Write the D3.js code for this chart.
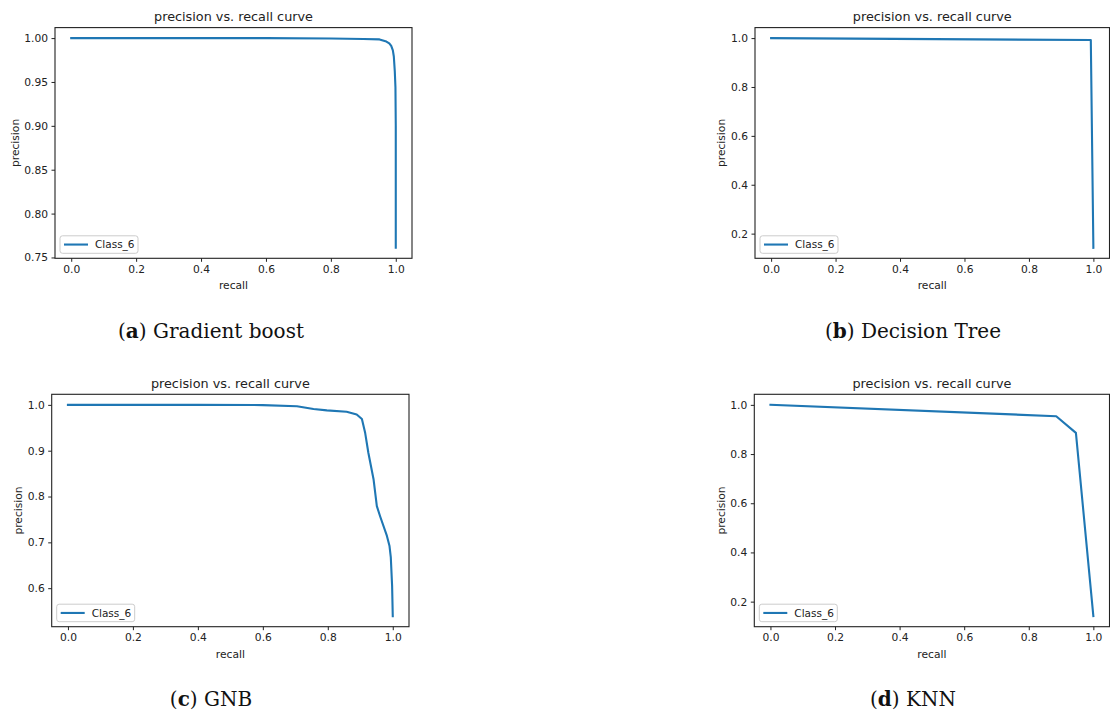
<!DOCTYPE html>
<html>
<head>
<meta charset="UTF-8">
<title>precision vs. recall curves</title>
<script src="https://cdn.jsdelivr.net/npm/d3@7"></script>
<style>
  body { margin: 0; background: #fff; }
  svg { display: block; }
</style>
</head>
<body>
<div id="chart"></div>
<script>
// curve values
const gbRecall    = [0.0, 0.2, 0.4, 0.6, 0.8, 0.9, 0.95, 0.971, 0.98, 0.986, 0.991, 0.994, 0.997, 0.999, 1.0, 1.0];
const gbPrecision = [1.0, 1.0, 1.0, 1.0, 0.9996, 0.999, 0.9985, 0.996, 0.994, 0.991, 0.986, 0.979, 0.962, 0.944, 0.90, 0.761];

const dtRecall    = [0.0, 0.992, 1.0];
const dtPrecision = [1.0, 0.992, 0.142];

const gnbRecall    = [0.0, 0.2, 0.4, 0.6, 0.705, 0.756, 0.797, 0.858, 0.889, 0.905, 0.915, 0.925, 0.941, 0.951, 0.961, 0.982, 0.990, 0.994, 0.998, 1.0];
const gnbPrecision = [1.0, 1.0, 1.0, 0.9995, 0.997, 0.991, 0.988, 0.985, 0.979, 0.969, 0.939, 0.895, 0.837, 0.779, 0.757, 0.714, 0.692, 0.667, 0.605, 0.539];

const knnRecall    = [0.0, 0.885, 0.946, 1.0];
const knnPrecision = [1.0, 0.954, 0.886, 0.141];

// tick labels
const xTicks    = [0, 0.2, 0.4, 0.6, 0.8, 1.0];
const gbYTicks  = [0.75, 0.80, 0.85, 0.90, 0.95, 1.00];
const dtYTicks  = [0.2, 0.4, 0.6, 0.8, 1.0];
const gnbYTicks = [0.6, 0.7, 0.8, 0.9, 1.0];
const knnYTicks = [0.2, 0.4, 0.6, 0.8, 1.0];

const captionLetters = ["a", "b", "c", "d"];
const captionNames   = ["Gradient boost", "Decision Tree", "GNB", "KNN"];
const seriesName = "Class_6";

const W = 1110, H = 715;
const blue = "#1f77b4";
const sans = "DejaVu Sans, sans-serif";

// layout: axes box [left, top, right, bottom], caption position, y label gap
const panels = [
  {r: gbRecall,  p: gbPrecision,  yt: gbYTicks,  fmt: ".2f", box: [55, 27.6, 412, 258.3],     cap: [211, 338], ylg: 40},
  {r: dtRecall,  p: dtPrecision,  yt: dtYTicks,  fmt: ".1f", box: [755, 27.6, 1109.5, 258.3], cap: [913, 338], ylg: 34},
  {r: gnbRecall, p: gnbPrecision, yt: gnbYTicks, fmt: ".1f", box: [51.7, 394.3, 409, 626.7],  cap: [211, 706], ylg: 33.7},
  {r: knnRecall, p: knnPrecision, yt: knnYTicks, fmt: ".1f", box: [754.3, 394.3, 1109.5, 626.7], cap: [913, 706], ylg: 33.3}
];

const svg = d3.select("#chart").append("svg")
    .attr("width", W)
    .attr("height", H);

panels.forEach(function(pn, i) {
    const [left, top, right, bottom] = pn.box;
    const pts = pn.r.map((d, k) => ({r: d, p: pn.p[k]}));

    // same autoscale margin as matplotlib (5%)
    const ext = d3.extent(pn.p);
    const pad = (ext[1] - ext[0]) * 0.05;
    const x = d3.scaleLinear().domain([-0.05, 1.05]).range([left, right]);
    const y = d3.scaleLinear().domain([ext[0] - pad, ext[1] + pad]).range([bottom, top]);

    const g = svg.append("g");

    // axes
    const xAxis = d3.axisBottom(x).tickValues(xTicks).tickFormat(d3.format(".1f"))
        .tickSizeOuter(0).tickSize(3.5).tickPadding(3.5);
    const yAxis = d3.axisLeft(y).tickValues(pn.yt).tickFormat(d3.format(pn.fmt))
        .tickSizeOuter(0).tickSize(3.5).tickPadding(3.5);

    const gx = g.append("g").attr("transform", `translate(0,${bottom})`).call(xAxis);
    const gy = g.append("g").attr("transform", `translate(${left},0)`).call(yAxis);
    [gx, gy].forEach(function(a) {
        a.select(".domain").remove();
        a.selectAll("line").attr("stroke", "#222").attr("stroke-width", 1);
        a.selectAll("text").attr("font-family", sans).attr("font-size", "10.7px").attr("fill", "#222");
    });

    // curve
    const line = d3.line().x(d => x(d.r)).y(d => y(d.p));
    g.append("path")
        .datum(pts)
        .attr("d", line)
        .attr("fill", "none")
        .attr("stroke", blue)
        .attr("stroke-width", 2.1)
        .attr("stroke-linejoin", "round")
        .attr("stroke-linecap", "square");

    // frame
    g.append("rect")
        .attr("x", left).attr("y", top)
        .attr("width", right - left).attr("height", bottom - top)
        .attr("fill", "none")
        .attr("stroke", "#222")
        .attr("stroke-width", 1.1);

    // title and axis labels
    g.append("text")
        .attr("x", (left + right) / 2).attr("y", top - 6.5)
        .attr("text-anchor", "middle")
        .attr("font-family", sans).attr("font-size", "12.8px").attr("fill", "#222")
        .text("precision vs. recall curve");

    g.append("text")
        .attr("x", (left + right) / 2).attr("y", bottom + 31)
        .attr("text-anchor", "middle")
        .attr("font-family", sans).attr("font-size", "10.7px").attr("fill", "#222")
        .text("recall");

    g.append("text")
        .attr("transform", `translate(${left - pn.ylg},${(top + bottom) / 2}) rotate(-90)`)
        .attr("dy", "0.35em")
        .attr("text-anchor", "middle")
        .attr("font-family", sans).attr("font-size", "10.7px").attr("fill", "#222")
        .text("precision");

    // legend
    const lx = left + 5, lh = 17.5, ly = bottom - 5 - lh;
    g.append("rect")
        .attr("x", lx).attr("y", ly)
        .attr("width", 78).attr("height", lh)
        .attr("rx", 2.5)
        .attr("fill", "#fff").attr("fill-opacity", 0.8)
        .attr("stroke", "#cccccc").attr("stroke-width", 1);
    g.append("line")
        .attr("x1", lx + 4).attr("x2", lx + 28)
        .attr("y1", ly + lh / 2).attr("y2", ly + lh / 2)
        .attr("stroke", blue).attr("stroke-width", 2.1);
    g.append("text")
        .attr("x", lx + 35).attr("y", ly + lh / 2 + 3.8)
        .attr("font-family", sans).attr("font-size", "10.5px").attr("fill", "#222")
        .text(seriesName);

    // caption underneath
    const cap = svg.append("text")
        .attr("x", pn.cap[0]).attr("y", pn.cap[1])
        .attr("text-anchor", "middle")
        .attr("font-family", "DejaVu Serif, serif").attr("font-size", "20px").attr("fill", "#111");
    cap.append("tspan").text("(");
    cap.append("tspan").attr("font-weight", "bold").text(captionLetters[i]);
    cap.append("tspan").text(") " + captionNames[i]);
});
</script>
</body>
</html>
